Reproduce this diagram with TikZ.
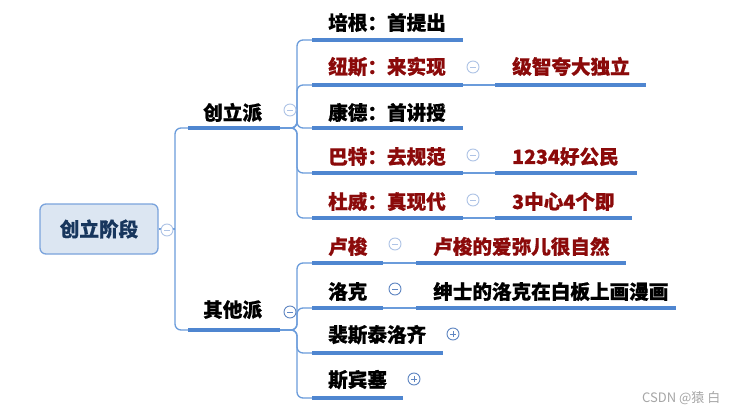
\documentclass[tikz,border=0pt]{standalone}
\usepackage{fontspec}
\newfontfamily\cjk{Noto Sans CJK SC}[BoldFeatures={FakeBold=0.6}]
\newfontfamily\cjkr{Noto Sans CJK SC}
\definecolor{uln}{HTML}{4F86D0}
\definecolor{cnn}{HTML}{6B9CDB}
\definecolor{darkred}{HTML}{8B0A0A}
\definecolor{navy}{HTML}{17365D}
\definecolor{rootfill}{HTML}{DCE6F2}
\definecolor{rootdraw}{HTML}{7AA3DC}
\definecolor{lightc}{HTML}{AFC4E6}
\definecolor{darkc}{HTML}{5F86C2}
\tikzset{
  uline/.style={draw=uln, line width=3.2pt},
  conn/.style={draw=cnn, line width=1.3pt, rounded corners=6pt},
  txt/.style={anchor=base west, inner sep=0pt, font=\cjk\bfseries\fontsize{19.6}{22}\selectfont, text=black},
  red/.style={txt, text=darkred},
  minusc/.style={circle, draw=#1, fill=white, line width=0.9pt, minimum size=12pt, inner sep=0pt,
    path picture={\draw[#1, line width=0.9pt] ([xshift=-3pt]path picture bounding box.center) -- ([xshift=3pt]path picture bounding box.center);}},
  plusc/.style={circle, draw=#1, fill=white, line width=0.9pt, minimum size=12pt, inner sep=0pt,
    path picture={\draw[#1, line width=0.9pt] ([xshift=-3pt]path picture bounding box.center) -- ([xshift=3pt]path picture bounding box.center)
      ([yshift=-3pt]path picture bounding box.center) -- ([yshift=3pt]path picture bounding box.center);}},
}
\begin{document}
\begin{tikzpicture}[x=1pt, y=-1pt]
\useasboundingbox[fill=white] (0,0) rectangle (732,412);

% root
\node[draw=rootdraw, fill=rootfill, line width=1.3pt, rounded corners=6pt, minimum width=118pt, minimum height=50pt,
  inner sep=0pt, font=\cjk\bfseries\fontsize{19.6}{22}\selectfont, text=navy] (root) at (99,229) {创立阶段};
\coordinate (rootj) at (175,229);

% level-1 underlines
\coordinate (cl-l) at (188,128); \coordinate (cl-r) at (280,128);
\coordinate (qt-l) at (188,330); \coordinate (qt-r) at (280,330);
\node[txt] (cl) at (203,120) {创立派};
\node[txt] (qt) at (203,317) {其他派};

% level-2 underline coordinates
\coordinate (pg-l) at (312,40);  \coordinate (pg-r) at (463,40);
\coordinate (ns-l) at (312,85);  \coordinate (ns-r) at (463,85);
\coordinate (kd-l) at (312,128); \coordinate (kd-r) at (463,128);
\coordinate (bt-l) at (312,173); \coordinate (bt-r) at (463,173);
\coordinate (dw-l) at (312,218); \coordinate (dw-r) at (463,218);
\coordinate (ls-l) at (312,263); \coordinate (ls-r) at (383,263);
\coordinate (lk-l) at (312,308); \coordinate (lk-r) at (383,308);
\coordinate (ps-l) at (312,353); \coordinate (ps-r) at (443,353);
\coordinate (sb-l) at (312,398); \coordinate (sb-r) at (403,398);
% level-3
\coordinate (nsc-l) at (495,85);  \coordinate (nsc-r) at (646,85);
\coordinate (btc-l) at (495,173); \coordinate (btc-r) at (637,173);
\coordinate (dwc-l) at (495,218); \coordinate (dwc-r) at (632,218);
\coordinate (lsc-l) at (416,263); \coordinate (lsc-r) at (626,263);
\coordinate (lkc-l) at (416,308); \coordinate (lkc-r) at (676,308);

% connectors
\draw[conn] (root.east) -- (rootj);
\draw[conn] (rootj) |- (cl-l);
\draw[conn] (rootj) |- (qt-l);
\foreach \c in {pg,ns,kd,bt,dw} { \draw[conn] (cl-r) -- ++(17,0) |- (\c-l); }
\foreach \c in {ls,lk,ps,sb} { \draw[conn] (qt-r) -- ++(17,0) |- (\c-l); }
\draw[conn] (ns-r) -- (nsc-l);
\draw[conn] (bt-r) -- (btc-l);
\draw[conn] (dw-r) -- (dwc-l);
\draw[conn] (ls-r) -- (lsc-l);
\draw[conn] (lk-r) -- (lkc-l);

% underlines
\foreach \c in {cl,qt,pg,ns,kd,bt,dw,ls,lk,ps,sb,nsc,btc,dwc,lsc,lkc} { \draw[uline] (\c-l) -- (\c-r); }

% texts
\node[txt] (pg) at (328,30) {培根：首提出};
\node[red] (ns) at (328,74) {纽斯：来实现};
\node[txt] (kd) at (328,120) {康德：首讲授};
\node[red] (bt) at (328,164) {巴特：去规范};
\node[red] (dw) at (328,209) {杜威：真现代};
\node[red] (nsc) at (512,74) {级智夸大独立};
\node[red] (btc) at (512,164) {1234好公民};
\node[red] (dwc) at (512,209) {3中心4个即};
\node[red] (ls) at (328,254) {卢梭};
\node[red] (lsc) at (433,254) {卢梭的爱弥儿很自然};
\node[txt] (lk) at (328,299) {洛克};
\node[txt] (lkc) at (433,299) {绅士的洛克在白板上画漫画};
\node[txt] (ps) at (328,342) {裴斯泰洛齐};
\node[txt] (sb) at (328,387) {斯宾塞};

% collapse markers
\node[minusc=lightc] (m0) at (167,230) {};
\node[minusc=lightc] (m1) at (290,110) {};
\node[minusc=lightc] (m2) at (473,67) {};
\node[minusc=lightc] (m3) at (473,155) {};
\node[minusc=lightc] (m4) at (473,200) {};
\node[minusc=darkc] (m5) at (290,312) {};
\node[minusc=lightc] (m6) at (395,244) {};
\node[minusc=darkc] (m7) at (395,289) {};
\node[plusc=darkc] (p1) at (453,334) {};
\node[plusc=darkc] (p2) at (414,379) {};

% watermark
\node[anchor=base west, inner sep=0pt, font=\cjkr\fontsize{13}{15}\selectfont, text=gray!70] (wm) at (642,402) {CSDN @猿 白};
\end{tikzpicture}
\end{document}
